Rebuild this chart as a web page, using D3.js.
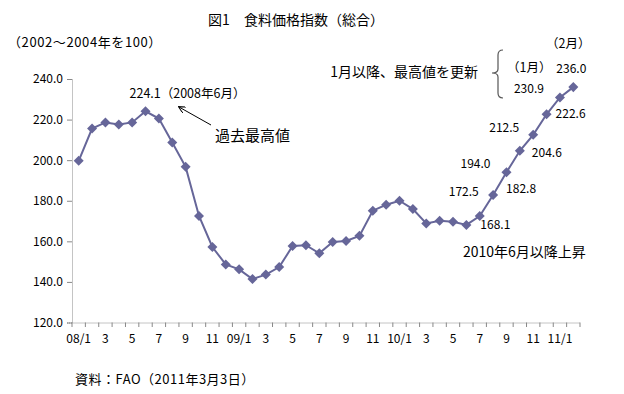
<!DOCTYPE html>
<html><head><meta charset="utf-8">
<script src="https://cdn.jsdelivr.net/npm/d3@7"></script>
<style>
body{margin:0;background:#fff;}
text{font-family:"Noto Sans CJK JP","Noto Sans",sans-serif;fill:#000;}
</style></head>
<body>
<svg id="c" width="624" height="394"></svg>
<script>
const months = ["08/1","08/2","08/3","08/4","08/5","08/6","08/7","08/8","08/9","08/10","08/11","08/12",
"09/1","09/2","09/3","09/4","09/5","09/6","09/7","09/8","09/9","09/10","09/11","09/12",
"10/1","10/2","10/3","10/4","10/5","10/6","10/7","10/8","10/9","10/10","10/11","10/12",
"11/1","11/2"];
const values = [199.7,215.6,218.6,217.6,218.6,224.1,220.5,208.7,196.7,172.5,157.2,148.6,
146.2,141.4,143.6,147.3,157.7,158.1,154.1,159.7,160.2,162.7,175.1,178.0,
180.0,175.9,168.8,170.1,169.6,168.1,172.5,182.8,194.0,204.6,212.5,222.6,
230.9,236.0];
const tickLabels = ["08/1","3","5","7","9","11","09/1","3","5","7","9","11","10/1","3","5","7","9","11","11/1"];
const yTicks = [120,140,160,180,200,220,240];
const labelled = ["10/6","10/7","10/8","10/9","10/10","10/11","10/12","11/1","11/2"];

const svg = d3.select("#c");
const x = d3.scaleBand().domain(months).range([72,580]);
const y = d3.scaleLinear().domain([120,240]).range([322.5,79]);
const cx = m => x(m)+x.bandwidth()/2;
const col = "#666699";
const numFont = "Liberation Sans, sans-serif";

// y axis
const ya = svg.append("g").attr("transform","translate(72,0)")
  .call(d3.axisLeft(y).tickValues(yTicks).tickFormat(d3.format(".1f")).tickSize(5).tickPadding(4));
ya.select(".domain").attr("stroke","#888").attr("stroke-dasharray","1,1");
ya.selectAll(".tick line").attr("stroke","#888");
ya.selectAll("text").style("font-size","12px").attr("font-family",numFont);

// x axis
const xa = svg.append("g").attr("transform","translate(0,322.5)")
  .call(d3.axisBottom(x).tickSize(0).tickFormat((d,i)=> i%2===0 ? tickLabels[i/2] : ""));
xa.select(".domain").attr("stroke","#888").attr("stroke-dasharray","1,1");
xa.selectAll("text").style("font-size","12px").attr("dy","1.45em").attr("font-family",numFont);
// boundary ticks
svg.append("g").selectAll("line").data(months.concat(["end"])).join("line")
  .attr("x1",(d,i)=> i<months.length ? x(d) : x.range()[1])
  .attr("x2",(d,i)=> i<months.length ? x(d) : x.range()[1])
  .attr("y1",322.5).attr("y2",327).attr("stroke","#888");

// line
svg.append("path").datum(values)
  .attr("d", d3.line().x((d,i)=>cx(months[i])).y(d=>y(d)))
  .attr("fill","none").attr("stroke",col).attr("stroke-width",2);
svg.append("g").selectAll("path").data(values).join("path")
  .attr("d", d3.symbol().type(d3.symbolDiamond2).size(64))
  .attr("transform",(d,i)=>`translate(${cx(months[i])},${y(d)})`)
  .attr("fill",col);

// value labels
const offs = {"10/6":[14,1,"start"],"10/7":[-1,-23,"end"],"10/8":[13,-5,"start"],"10/9":[-16,-8,"end"],
 "10/10":[12,3,"start"],"10/11":[-14,-6,"end"],"10/12":[9,0,"start"],"11/1":[-46,-8,"start"],"11/2":[-17,-17,"start"]};
svg.append("g").selectAll("text").data(labelled).join("text")
  .attr("x",d=>cx(d)+offs[d][0]).attr("y",d=>y(values[months.indexOf(d)])+offs[d][1])
  .attr("text-anchor",d=>offs[d][2]).attr("dominant-baseline","middle")
  .style("font-size","12px").attr("font-family",numFont)
  .text(d=>values[months.indexOf(d)].toFixed(1));

// peak label
svg.append("text").attr("x",cx("08/6")-16).attr("y",y(224.1)-17).style("font-size","12.5px")
  .attr("dominant-baseline","middle")
  .text("224.1（2008年6月）");
// arrow
svg.append("defs").append("marker").attr("id","ah").attr("viewBox","0 0 10 10").attr("refX",9).attr("refY",5)
  .attr("markerWidth",7).attr("markerHeight",7).attr("orient","auto")
  .append("path").attr("d","M0,0 L10,5 L0,10").attr("fill","none").attr("stroke","#000").attr("stroke-width",1.4);
svg.append("line").attr("x1",211).attr("y1",125).attr("x2",179).attr("y2",107)
  .attr("stroke","#000").attr("stroke-width",1).attr("marker-end","url(#ah)");
svg.append("text").attr("x",215).attr("y",137).attr("dominant-baseline","middle").style("font-size","15px").text("過去最高値");

// title
svg.append("text").attr("x",296).attr("y",21).attr("text-anchor","middle").attr("dominant-baseline","middle")
  .style("font-size","14px").text("図1　食料価格指数（総合）");
svg.append("text").attr("x",8).attr("y",43).attr("dominant-baseline","middle").style("font-size","13px")
  .style("letter-spacing","0.6px").text("（2002～2004年を100）");

// bracket annotation
svg.append("text").attr("x",478).attr("y",73).attr("text-anchor","end").attr("dominant-baseline","middle")
  .style("font-size","14px").text("1月以降、最高値を更新");
svg.append("path").attr("d","M503,50 Q498,50 498,55 L498,69 Q498,73 492,73 Q498,73 498,77 L498,93 Q498,98 503,98")
  .attr("fill","none").attr("stroke","#555").attr("stroke-width",1.2);
svg.append("text").attr("x",507).attr("y",69).attr("dominant-baseline","middle").style("font-size","12.5px").text("（1月）");
svg.append("text").attr("x",546).attr("y",45).attr("dominant-baseline","middle").style("font-size","12.5px").text("（2月）");

svg.append("text").attr("x",463).attr("y",253).attr("dominant-baseline","middle").style("font-size","14px").text("2010年6月以降上昇");

svg.append("text").attr("x",75).attr("y",380).attr("dominant-baseline","middle").style("font-size","13px")
  .style("letter-spacing","0.5px").text("資料：FAO（2011年3月3日）");
</script>
</body></html>
